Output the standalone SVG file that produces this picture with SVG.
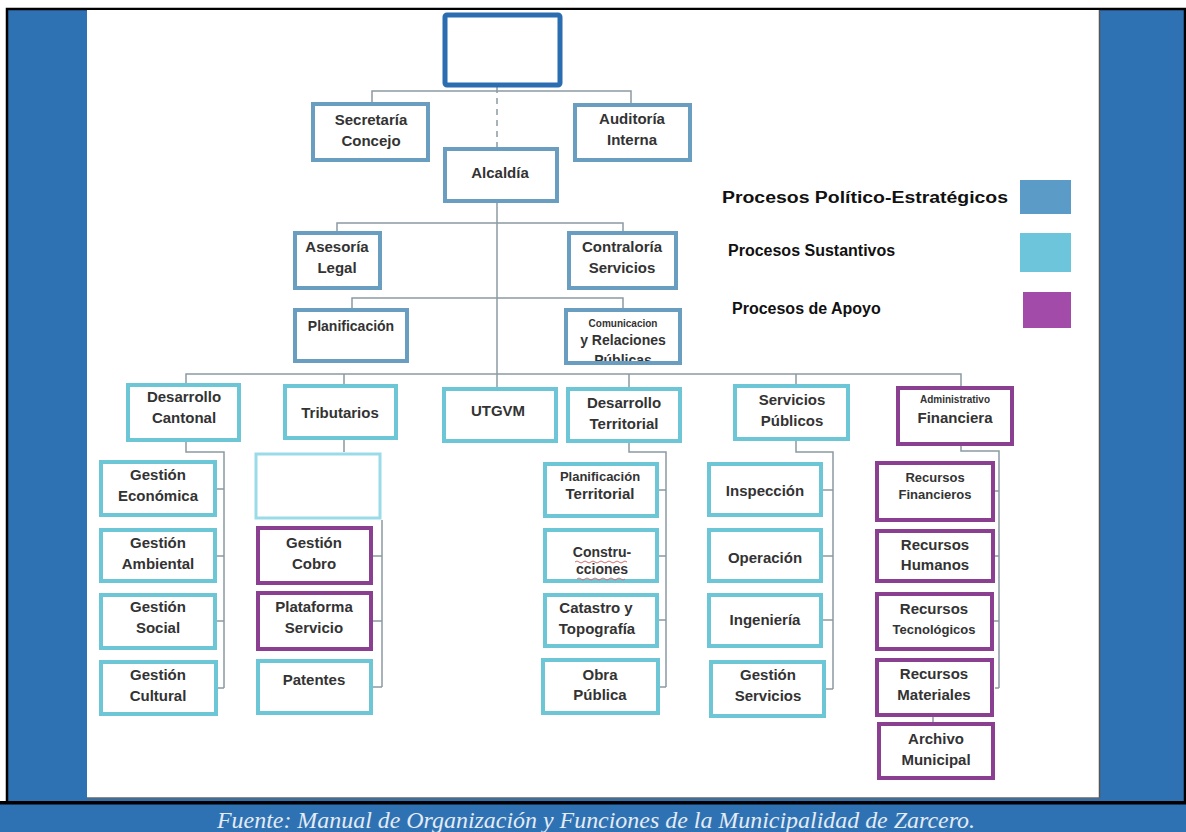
<svg xmlns="http://www.w3.org/2000/svg" width="1186" height="832" viewBox="0 0 1186 832">
<defs>
<style>
.pol{fill:#fff;stroke:#6a9ec0;stroke-width:4}
.sus{fill:#fff;stroke:#6cc6d6;stroke-width:4}
.apo{fill:#fff;stroke:#8a3f90;stroke-width:4}
.t{font-family:"Liberation Sans",Arial,sans-serif;font-size:15px;font-weight:bold;fill:#333;text-anchor:middle}
.s{font-size:10px}
.m{font-size:13px}
.c{stroke:#8c9aa3;stroke-width:1.5;fill:none}
.lg{font-family:"Liberation Sans",Arial,sans-serif;font-size:16px;font-weight:bold;fill:#111}
</style>
<clipPath id="clipCom"><rect x="566" y="310" width="114" height="51"/></clipPath>
</defs>
<rect x="0" y="0" width="1186" height="832" fill="#fff"/>
<rect x="7" y="9" width="1178" height="794" fill="#2f72b3" stroke="#000" stroke-width="2.5"/>
<rect x="0" y="803" width="1186" height="29" fill="#2f72b3"/>
<rect x="0" y="801" width="1186" height="3.5" fill="#000"/>
<rect x="87" y="10" width="1013" height="788" fill="#fff"/>
<line x1="1099.5" y1="10" x2="1099.5" y2="798" stroke="#555" stroke-width="1.5"/>
<line x1="87" y1="798" x2="1100" y2="798" stroke="#666" stroke-width="1.5"/>
<text x="596" y="828" font-family="'Liberation Serif',serif" font-style="italic" font-size="23" fill="#e3ebf4" text-anchor="middle" textLength="758" lengthAdjust="spacingAndGlyphs">Fuente: Manual de Organización y Funciones de la Municipalidad de Zarcero.</text>

<g id="connectors">
<path class="c" d="M372,103 V91 H631 V103"/>
<path class="c" d="M497,87 V147" stroke-dasharray="6,5"/>
<path class="c" d="M497,203 V387"/>
<path class="c" d="M337,231 V223 H623 V231"/>
<path class="c" d="M352,308 V298 H623 V308"/>
<path class="c" d="M186,383 V374 H961 V386 M344,374 V384 M629,374 V387 M796,374 V384"/>
<path class="c" d="M186,442 V452 H224 V688 M217,489 H224 M217,556 H224 M217,621 H224 M218,688 H224"/>
<path class="c" d="M344,440 V452 M382,520 V687 M373,556 H382 M373,621 H382 M373,687 H382"/>
<path class="c" d="M629,443 V452 H666 V687 M659,490 H666 M659,556 H666 M659,620 H666 M660,687 H666"/>
<path class="c" d="M796,441 V452 H833 V689 M823,490 H833 M823,556 H833 M823,620 H833 M826,689 H833"/>
<path class="c" d="M961,446 V451 H999 V688 M995,491 H999 M995,556 H999 M994,621 H999 M995,688 H999"/>
<path class="c" d="M933,717 V722"/>
</g>

<g id="concejo"><rect x="445" y="15" width="115" height="70" rx="2" fill="#fff" stroke="#2a6db0" stroke-width="5"/></g>
<g id="secretaria"><rect class="pol" x="313" y="104" width="115" height="56"/><text class="t" x="371" y="125">Secretaría</text><text class="t" x="371" y="146">Concejo</text></g>
<g id="auditoria"><rect class="pol" x="575" y="105" width="115" height="55"/><text class="t" x="632" y="124">Auditoría</text><text class="t" x="632" y="145">Interna</text></g>
<g id="alcaldia"><rect class="pol" x="445" y="149" width="112" height="52"/><text class="t" x="500" y="178">Alcaldía</text></g>
<g id="asesoria"><rect class="pol" x="295" y="233" width="85" height="55"/><text class="t" x="337" y="252">Asesoría</text><text class="t" x="337" y="273">Legal</text></g>
<g id="contraloria"><rect class="pol" x="569" y="233" width="107" height="55"/><text class="t" x="622" y="252">Contraloría</text><text class="t" x="622" y="273">Servicios</text></g>
<g id="planificacion"><rect class="pol" x="295" y="310" width="112" height="51"/><text class="t" x="351" y="331" style="font-size:14px">Planificación</text></g>
<g id="comunicacion"><rect class="pol" x="566" y="310" width="114" height="53"/><g clip-path="url(#clipCom)"><text class="t s" x="623" y="327">Comunicacion</text><text class="t" x="623" y="345" style="font-size:14px">y Relaciones</text><text class="t" x="623" y="365" style="font-size:14px">Públicas</text></g></g>

<g id="desarrollo-cantonal"><rect class="sus" x="128" y="385" width="111" height="55"/><text class="t" x="184" y="402">Desarrollo</text><text class="t" x="184" y="423">Cantonal</text></g>
<g id="tributarios"><rect class="sus" x="285" y="386" width="111" height="52"/><text class="t" x="340" y="418">Tributarios</text></g>
<g id="utgvm"><rect class="sus" x="444" y="389" width="112" height="52"/><text class="t" x="498" y="416">UTGVM</text></g>
<g id="desarrollo-territorial"><rect class="sus" x="568" y="389" width="112" height="52"/><text class="t" x="624" y="408">Desarrollo</text><text class="t" x="624" y="429">Territorial</text></g>
<g id="servicios-publicos"><rect class="sus" x="735" y="386" width="113" height="53"/><text class="t" x="792" y="405">Servicios</text><text class="t" x="792" y="426">Públicos</text></g>
<g id="administrativo-financiera"><rect class="apo" x="898" y="388" width="114" height="56"/><text class="t s" x="955" y="403">Administrativo</text><text class="t" x="955" y="423">Financiera</text></g>

<g id="gestion-economica"><rect class="sus" x="101" y="462" width="114" height="53"/><text class="t" x="158" y="480">Gestión</text><text class="t" x="158" y="501">Económica</text></g>
<g id="gestion-ambiental"><rect class="sus" x="101" y="530" width="114" height="51"/><text class="t" x="158" y="548">Gestión</text><text class="t" x="158" y="569">Ambiental</text></g>
<g id="gestion-social"><rect class="sus" x="101" y="595" width="114" height="53"/><text class="t" x="158" y="612">Gestión</text><text class="t" x="158" y="633">Social</text></g>
<g id="gestion-cultural"><rect class="sus" x="101" y="662" width="115" height="52"/><text class="t" x="158" y="680">Gestión</text><text class="t" x="158" y="701">Cultural</text></g>

<g id="tributarios-blank"><rect x="256" y="454" width="124" height="64" fill="#fff" stroke="#9adbe8" stroke-width="3"/></g>
<g id="gestion-cobro"><rect class="apo" x="258" y="528" width="113" height="55"/><text class="t" x="314" y="548">Gestión</text><text class="t" x="314" y="569">Cobro</text></g>
<g id="plataforma-servicio"><rect class="apo" x="258" y="593" width="113" height="56"/><text class="t" x="314" y="612">Plataforma</text><text class="t" x="314" y="633">Servicio</text></g>
<g id="patentes"><rect class="sus" x="258" y="661" width="113" height="52"/><text class="t" x="314" y="685">Patentes</text></g>

<g id="planificacion-territorial"><rect class="sus" x="545" y="464" width="112" height="52"/><text class="t m" x="600" y="481">Planificación</text><text class="t" x="600" y="499">Territorial</text></g>
<g id="construcciones"><rect class="sus" x="545" y="530" width="112" height="51"/><text class="t" x="602" y="557" style="font-size:14px">Constru-</text><text class="t" x="602" y="574" style="font-size:14px">cciones</text><path d="M575,562 q2,-2 4,0 t4,0 t4,0 t4,0 t4,0 t4,0 t4,0 t4,0 t4,0 t4,0 t4,0 t4,0 t4,0 M577,579 q2,-2 4,0 t4,0 t4,0 t4,0 t4,0 t4,0 t4,0 t4,0 t4,0 t4,0 t4,0 t4,0" fill="none" stroke="#d47070" stroke-width="1"/></g>
<g id="catastro"><rect class="sus" x="545" y="595" width="112" height="51"/><text class="t" x="596" y="613">Catastro y</text><text class="t" x="597" y="634">Topografía</text></g>
<g id="obra-publica"><rect class="sus" x="543" y="660" width="115" height="53"/><text class="t" x="600" y="680">Obra</text><text class="t" x="600" y="700">Pública</text></g>

<g id="inspeccion"><rect class="sus" x="709" y="464" width="112" height="51"/><text class="t" x="765" y="496">Inspección</text></g>
<g id="operacion"><rect class="sus" x="709" y="530" width="112" height="51"/><text class="t" x="765" y="563">Operación</text></g>
<g id="ingenieria"><rect class="sus" x="709" y="595" width="112" height="51"/><text class="t" x="765" y="625">Ingeniería</text></g>
<g id="gestion-servicios"><rect class="sus" x="711" y="662" width="113" height="54"/><text class="t" x="768" y="680">Gestión</text><text class="t" x="768" y="701">Servicios</text></g>

<g id="recursos-financieros"><rect class="apo" x="877" y="463" width="116" height="57"/><text class="t m" x="935" y="482">Recursos</text><text class="t m" x="935" y="499">Financieros</text></g>
<g id="recursos-humanos"><rect class="apo" x="877" y="531" width="116" height="50"/><text class="t" x="935" y="550">Recursos</text><text class="t" x="935" y="570">Humanos</text></g>
<g id="recursos-tecnologicos"><rect class="apo" x="877" y="594" width="115" height="55"/><text class="t" x="934" y="614">Recursos</text><text class="t m" x="934" y="634">Tecnológicos</text></g>
<g id="recursos-materiales"><rect class="apo" x="877" y="660" width="115" height="55"/><text class="t" x="934" y="679">Recursos</text><text class="t" x="934" y="700">Materiales</text></g>
<g id="archivo-municipal"><rect class="apo" x="879" y="724" width="114" height="54"/><text class="t" x="936" y="744">Archivo</text><text class="t" x="936" y="765">Municipal</text></g>

<g id="legend">
<text class="lg" x="722" y="203" textLength="286" lengthAdjust="spacingAndGlyphs">Procesos Político-Estratégicos</text>
<rect x="1020" y="180" width="51" height="34" fill="#5b9bc8"/>
<text class="lg" x="728" y="256">Procesos Sustantivos</text>
<rect x="1020" y="233" width="51" height="39" fill="#6cc5da"/>
<text class="lg" x="732" y="314">Procesos de Apoyo</text>
<rect x="1023" y="292" width="48" height="36" fill="#a24ba8"/>
</g>
</svg>
